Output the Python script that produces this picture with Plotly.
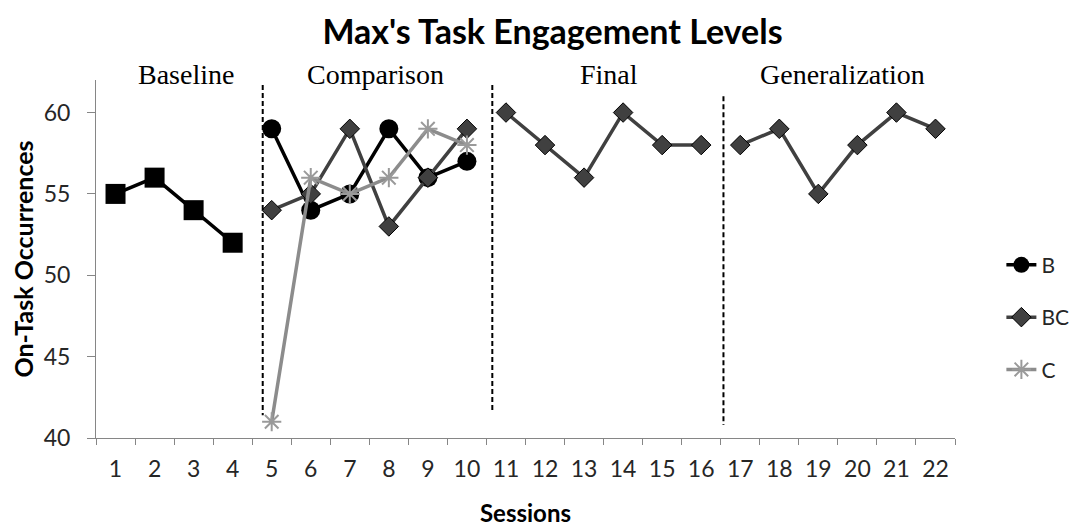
import plotly.graph_objects as go

sessions = [str(i) for i in range(1, 23)]
baseline_x = ["1", "2", "3", "4"]
baseline_y = [55, 56, 54, 52]
comp_x = ["5", "6", "7", "8", "9", "10"]
b_y = [59, 54, 55, 59, 56, 57]
bc_y = [54, 55, 59, 53, 56, 59]
c_y = [41, 56, 55, 56, 59, 58]
final_x = ["11", "12", "13", "14", "15", "16"]
final_y = [60, 58, 56, 60, 58, 58]
gen_x = ["17", "18", "19", "20", "21", "22"]
gen_y = [58, 59, 55, 58, 60, 59]
phase_labels = ["Baseline", "Comparison", "Final", "Generalization"]
y_ticks = [40, 45, 50, 55, 60]

BLACK = "#000000"
DARK = "#404040"
GRAY = "#8c8c8c"
CMARK = "#9a9a9a"
FONT = "Lato"

fig = go.Figure()

fig.add_trace(go.Scatter(x=baseline_x, y=baseline_y, mode="lines+markers",
                         line=dict(color=BLACK, width=3.5),
                         marker=dict(symbol="square", size=20, color=BLACK),
                         showlegend=False))
fig.add_trace(go.Scatter(x=comp_x, y=b_y, mode="lines+markers", name="B",
                         legendgroup="B",
                         line=dict(color=BLACK, width=3.5),
                         marker=dict(symbol="circle", size=19, color=BLACK)))
fig.add_trace(go.Scatter(x=comp_x, y=bc_y, mode="lines+markers", name="BC",
                         legendgroup="BC",
                         line=dict(color=DARK, width=3.5),
                         marker=dict(symbol="diamond", size=15, color=DARK,
                                     line=dict(color=BLACK, width=1))))
fig.add_trace(go.Scatter(x=comp_x, y=c_y, mode="lines+markers", name="C",
                         legendgroup="C",
                         line=dict(color=GRAY, width=3.5),
                         marker=dict(symbol="asterisk-open", size=16, color=CMARK,
                                     line=dict(color=CMARK, width=2))))
fig.add_trace(go.Scatter(x=final_x, y=final_y, mode="lines+markers",
                         line=dict(color=DARK, width=3.5),
                         marker=dict(symbol="diamond", size=15, color=DARK,
                                     line=dict(color=BLACK, width=1)),
                         showlegend=False))
fig.add_trace(go.Scatter(x=gen_x, y=gen_y, mode="lines+markers",
                         line=dict(color=DARK, width=3.5),
                         marker=dict(symbol="diamond", size=15, color=DARK,
                                     line=dict(color=BLACK, width=1)),
                         showlegend=False))

# phase dividers (category index positions, 0-based)
dividers = [(3.77, 61.7, 41.4), (9.65, 61.7, 41.6), (15.57, 61.0, 40.8)]
for xv, y0, y1 in dividers:
    fig.add_shape(type="line", xref="x", yref="y", x0=xv, x1=xv, y0=y0, y1=y1,
                  line=dict(color=BLACK, width=2, dash="5px,3px"))

label_x = [1.8, 6.65, 12.64, 18.63]
for lx, txt in zip(label_x, phase_labels):
    fig.add_annotation(x=lx, y=1.015, xref="x", yref="paper", text=txt, showarrow=False,
                       font=dict(family="Liberation Serif", size=28, color=BLACK),
                       yanchor="middle", xanchor="center")

fig.update_layout(
    width=1089, height=526,
    margin=dict(l=88, r=142, t=72, b=96),
    paper_bgcolor="white", plot_bgcolor="white",
    title=dict(text="<b>Max's Task Engagement Levels</b>", x=0.5, xref="container",
               xanchor="center", y=0.955, yref="container", yanchor="middle",
               font=dict(family=FONT, size=34, color=BLACK)),
    font=dict(family=FONT, color="#262626"),
    showlegend=True,
    legend=dict(x=1.054, y=0.54, xanchor="left", yanchor="top",
                font=dict(family=FONT, size=21, color="#262626"),
                tracegroupgap=22, bgcolor="rgba(0,0,0,0)"),
)
fig.update_xaxes(type="category", categoryorder="array", categoryarray=sessions,
                 range=[-0.5, 21.5],
                 tickson="boundaries", ticks="outside", ticklen=6, tickcolor="#868686",
                 showline=True, linecolor="#868686", linewidth=1, showgrid=False,
                 zeroline=False, ticklabelstandoff=10,
                 tickfont=dict(family=FONT, size=23, color="#262626"),
                 title=dict(text="<b>Sessions</b>", font=dict(family=FONT, size=24, color=BLACK),
                            standoff=24))
fig.update_yaxes(range=[40, 62], tickvals=y_ticks, ticks="outside", ticklen=8,
                 tickcolor="#868686", showline=True, linecolor="#868686", linewidth=1,
                 showgrid=False, zeroline=False, ticklabelstandoff=12,
                 tickfont=dict(family=FONT, size=23, color="#262626"),
                 title=dict(text="<b>On-Task Occurrences</b>",
                            font=dict(family=FONT, size=25, color=BLACK), standoff=5))

fig.write_html("out.html")
